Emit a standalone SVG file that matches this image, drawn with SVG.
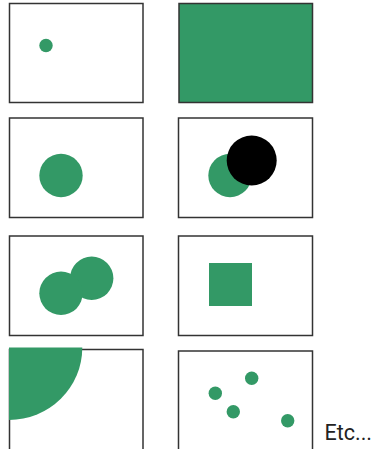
<svg xmlns="http://www.w3.org/2000/svg" width="375" height="449" viewBox="0 0 375 449">
<style>
.frame{fill:#fff;stroke:#333;stroke-width:1.5}
.g{fill:#339966}
.k{fill:#000}
.t{font-family:Roboto,"Liberation Sans",sans-serif;font-size:21.5px;fill:#222}
</style>
<rect width="375" height="449" fill="#fff"/>
<g id="panel1"><rect class="frame" x="9.5" y="3.5" width="133.5" height="99"/><circle class="g" cx="46" cy="45.5" r="6.7"/></g>
<g id="panel2"><rect class="frame g" x="179" y="3.5" width="133.5" height="99" style="fill:#339966"/></g>
<g id="panel3"><rect class="frame" x="9.5" y="118" width="133.5" height="99.5"/><circle class="g" cx="61" cy="175.5" r="21.7"/></g>
<g id="panel4"><rect class="frame" x="178.5" y="118" width="134" height="99.5"/><circle class="g" cx="230" cy="175.5" r="21.7"/><circle class="k" cx="251.7" cy="160.5" r="25"/></g>
<g id="panel5"><rect class="frame" x="9.5" y="236" width="133.5" height="99.5"/><circle class="g" cx="91.7" cy="278.3" r="21.7"/><circle class="g" cx="61" cy="293.3" r="21.7"/></g>
<g id="panel6"><rect class="frame" x="178.5" y="236" width="134" height="99.5"/><rect class="g" x="209" y="263" width="43" height="43"/></g>
<g id="panel7"><rect class="frame" x="9.5" y="349.5" width="133.5" height="110"/><path class="g" d="M9 347.5 H82.3 A73.3 72.5 0 0 1 9 420 Z"/></g>
<g id="panel8"><rect class="frame" x="178.5" y="351" width="134" height="110"/><circle class="g" cx="251.7" cy="378.3" r="6.7"/><circle class="g" cx="215.3" cy="393.3" r="6.7"/><circle class="g" cx="233.3" cy="411.7" r="6.7"/><circle class="g" cx="287.7" cy="420.7" r="6.7"/></g>
<text class="t" x="324.5" y="440">Etc...</text>
</svg>
